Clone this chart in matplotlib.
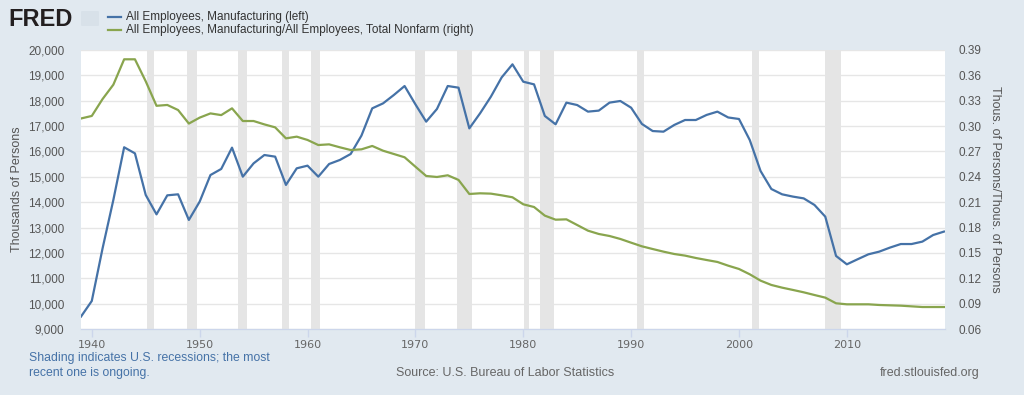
import numpy as np
import matplotlib
matplotlib.use("Agg")
import matplotlib.pyplot as plt
import matplotlib.patches as mpatches
from matplotlib.ticker import FuncFormatter

# annual values, 1939-2019
years = list(range(1939, 2020))

manufacturing = [
    9490, 10105, 12180, 14090, 16165, 15925, 14285, 13520, 14270, 14310,
    13300, 14020, 15070, 15310, 16150, 15005, 15530, 15860, 15795, 14680,
    15335, 15440, 15005, 15505, 15665, 15900, 16625, 17700, 17895, 18225,
    18580, 17860, 17175, 17675, 18580, 18515, 16910, 17505, 18160, 18920,
    19435, 18750, 18645, 17400, 17070, 17925, 17830, 17570, 17610, 17925,
    17990, 17725, 17085, 16805, 16780, 17045, 17240, 17240, 17440, 17570,
    17340, 17280, 16450, 15230, 14520, 14310, 14220, 14150, 13890, 13430,
    11880, 11550, 11750, 11945, 12050, 12210, 12350, 12350, 12445, 12705,
    12840,
]

mfg_share = [
    0.309, 0.312, 0.332, 0.349, 0.379, 0.379, 0.353, 0.324, 0.325, 0.319,
    0.303, 0.310, 0.315, 0.313, 0.321, 0.306, 0.306, 0.302, 0.2985, 0.2855,
    0.2875, 0.2836, 0.2776, 0.2784, 0.2749, 0.2717, 0.2725, 0.2765, 0.2709, 0.267,
    0.2631, 0.252, 0.241, 0.2398, 0.2418, 0.2363, 0.2197, 0.2205, 0.2201, 0.2181,
    0.2158, 0.2075, 0.2043, 0.1941, 0.1893, 0.1897, 0.183, 0.1763, 0.1724, 0.170,
    0.1665, 0.1621, 0.1578, 0.1546, 0.1515, 0.1487, 0.1468, 0.144, 0.1416, 0.1393,
    0.1349, 0.131, 0.1247, 0.1172, 0.1121, 0.1089, 0.1062, 0.1034, 0.1002, 0.0971,
    0.0904, 0.0892, 0.0892, 0.0892, 0.0884, 0.088, 0.0876, 0.0868, 0.086, 0.086,
    0.086,
]

# NBER recessions as decimal years (start, end)
rec_start = [1945.12, 1948.87, 1953.54, 1957.62, 1960.29, 1969.96, 1973.87, 1980.04, 1981.54, 1990.54, 2001.21, 2007.96]
rec_end   = [1945.79, 1949.79, 1954.37, 1958.29, 1961.12, 1970.87, 1975.21, 1980.54, 1982.87, 1991.21, 2001.87, 2009.46]

left_ticks  = list(range(9000, 20001, 1000))
right_ticks = [0.06, 0.09, 0.12, 0.15, 0.18, 0.21, 0.24, 0.27, 0.30, 0.33, 0.36, 0.39]
decades = [1940, 1950, 1960, 1970, 1980, 1990, 2000, 2010]

BG     = "#e1e9f0"
BLUE   = "#4572a7"
GREEN  = "#89a54e"
GRID   = "#e6e6e6"
SHADE  = "#e5e5e5"
TXT    = "#555555"

plt.rcParams["font.family"] = ["Liberation Sans", "DejaVu Sans"]

fig = plt.figure(figsize=(10.24, 3.95), dpi=100, facecolor=BG)
ax = fig.add_axes([81 / 1024, 66 / 395, 864 / 1024, 279 / 395])
ax.set_facecolor("white")

for s, e in zip(rec_start, rec_end):
    ax.axvspan(s, e, color=SHADE, linewidth=0, zorder=1)

ax.set_xlim(1939, 2019.1)
ax.set_ylim(9000, 20000)
ax.set_yticks(left_ticks)
ax.yaxis.set_major_formatter(FuncFormatter(lambda v, p: f"{int(v):,}"))
ax.grid(axis="y", color=GRID, linewidth=1, zorder=0)
ax.set_axisbelow(True)

ax.plot(years, manufacturing, color=BLUE, linewidth=1.6, zorder=3)

ax2 = ax.twinx()
ax2.set_ylim(0.06, 0.39)
ax2.set_yticks(right_ticks)
ax2.yaxis.set_major_formatter(FuncFormatter(lambda v, p: f"{v:.2f}"))
ax2.plot(years, mfg_share, color=GREEN, linewidth=1.6, zorder=3)

for a in (ax, ax2):
    for side in ("top", "left", "right"):
        a.spines[side].set_visible(False)
    a.spines["bottom"].set_color("#ccd6eb")

ax.set_xticks(decades)
ax.tick_params(axis="x", colors="#ccd6eb", length=6, width=1, labelcolor="#666666",
               labelsize=8, pad=2)
for lbl in ax.get_xticklabels():
    lbl.set_family(["Liberation Sans Narrow", "DejaVu Sans"])
ax.tick_params(axis="y", length=0, labelcolor=TXT, labelsize=8.5, pad=12)
ax2.tick_params(axis="y", length=0, labelcolor=TXT, labelsize=8.5, pad=10)

ax.set_ylabel("Thousands of Persons", color=TXT, fontsize=9)
ax.yaxis.set_label_coords(-0.067, 0.5)
ax2.set_ylabel("Thous. of Persons/Thous. of Persons", color=TXT, fontsize=9,
               rotation=270, labelpad=14)

# header: FRED wordmark, small icon box and legend
fig.text(8 / 1024, 1 - 19 / 395, "FRED", fontsize=17, fontweight="bold",
         color="#231f20", va="center", ha="left")
fig.add_artist(mpatches.FancyBboxPatch((81 / 1024, 1 - 26 / 395), 18 / 1024, 15 / 395,
                                       boxstyle="round,pad=0,rounding_size=0.002",
                                       transform=fig.transFigure, facecolor="#d8e1e9",
                                       edgecolor="none"))
leg_items = [("All Employees, Manufacturing (left)", BLUE),
             ("All Employees, Manufacturing/All Employees, Total Nonfarm (right)", GREEN)]
for i, (label, col) in enumerate(leg_items):
    yy = 1 - (17 + 13 * i) / 395
    fig.add_artist(plt.Line2D([108 / 1024, 121 / 1024], [yy, yy], color=col, linewidth=1.6))
    fig.text(126 / 1024, yy, label, fontsize=8.5, color="#333333", va="center", ha="left")

# footer
fig.text(29 / 1024, 1 - 365.5 / 395, "Shading indicates U.S. recessions; the most\nrecent one is ongoing.",
         fontsize=8.8, color=BLUE, va="center", ha="left", linespacing=1.3)
fig.text(505 / 1024, 1 - 373 / 395, "Source: U.S. Bureau of Labor Statistics",
         fontsize=9, color="#666666", va="center", ha="center")
fig.text(980 / 1024, 1 - 373 / 395, "fred.stlouisfed.org",
         fontsize=9, color="#666666", va="center", ha="right")

fig.savefig("out.png", dpi=100, facecolor=BG)
